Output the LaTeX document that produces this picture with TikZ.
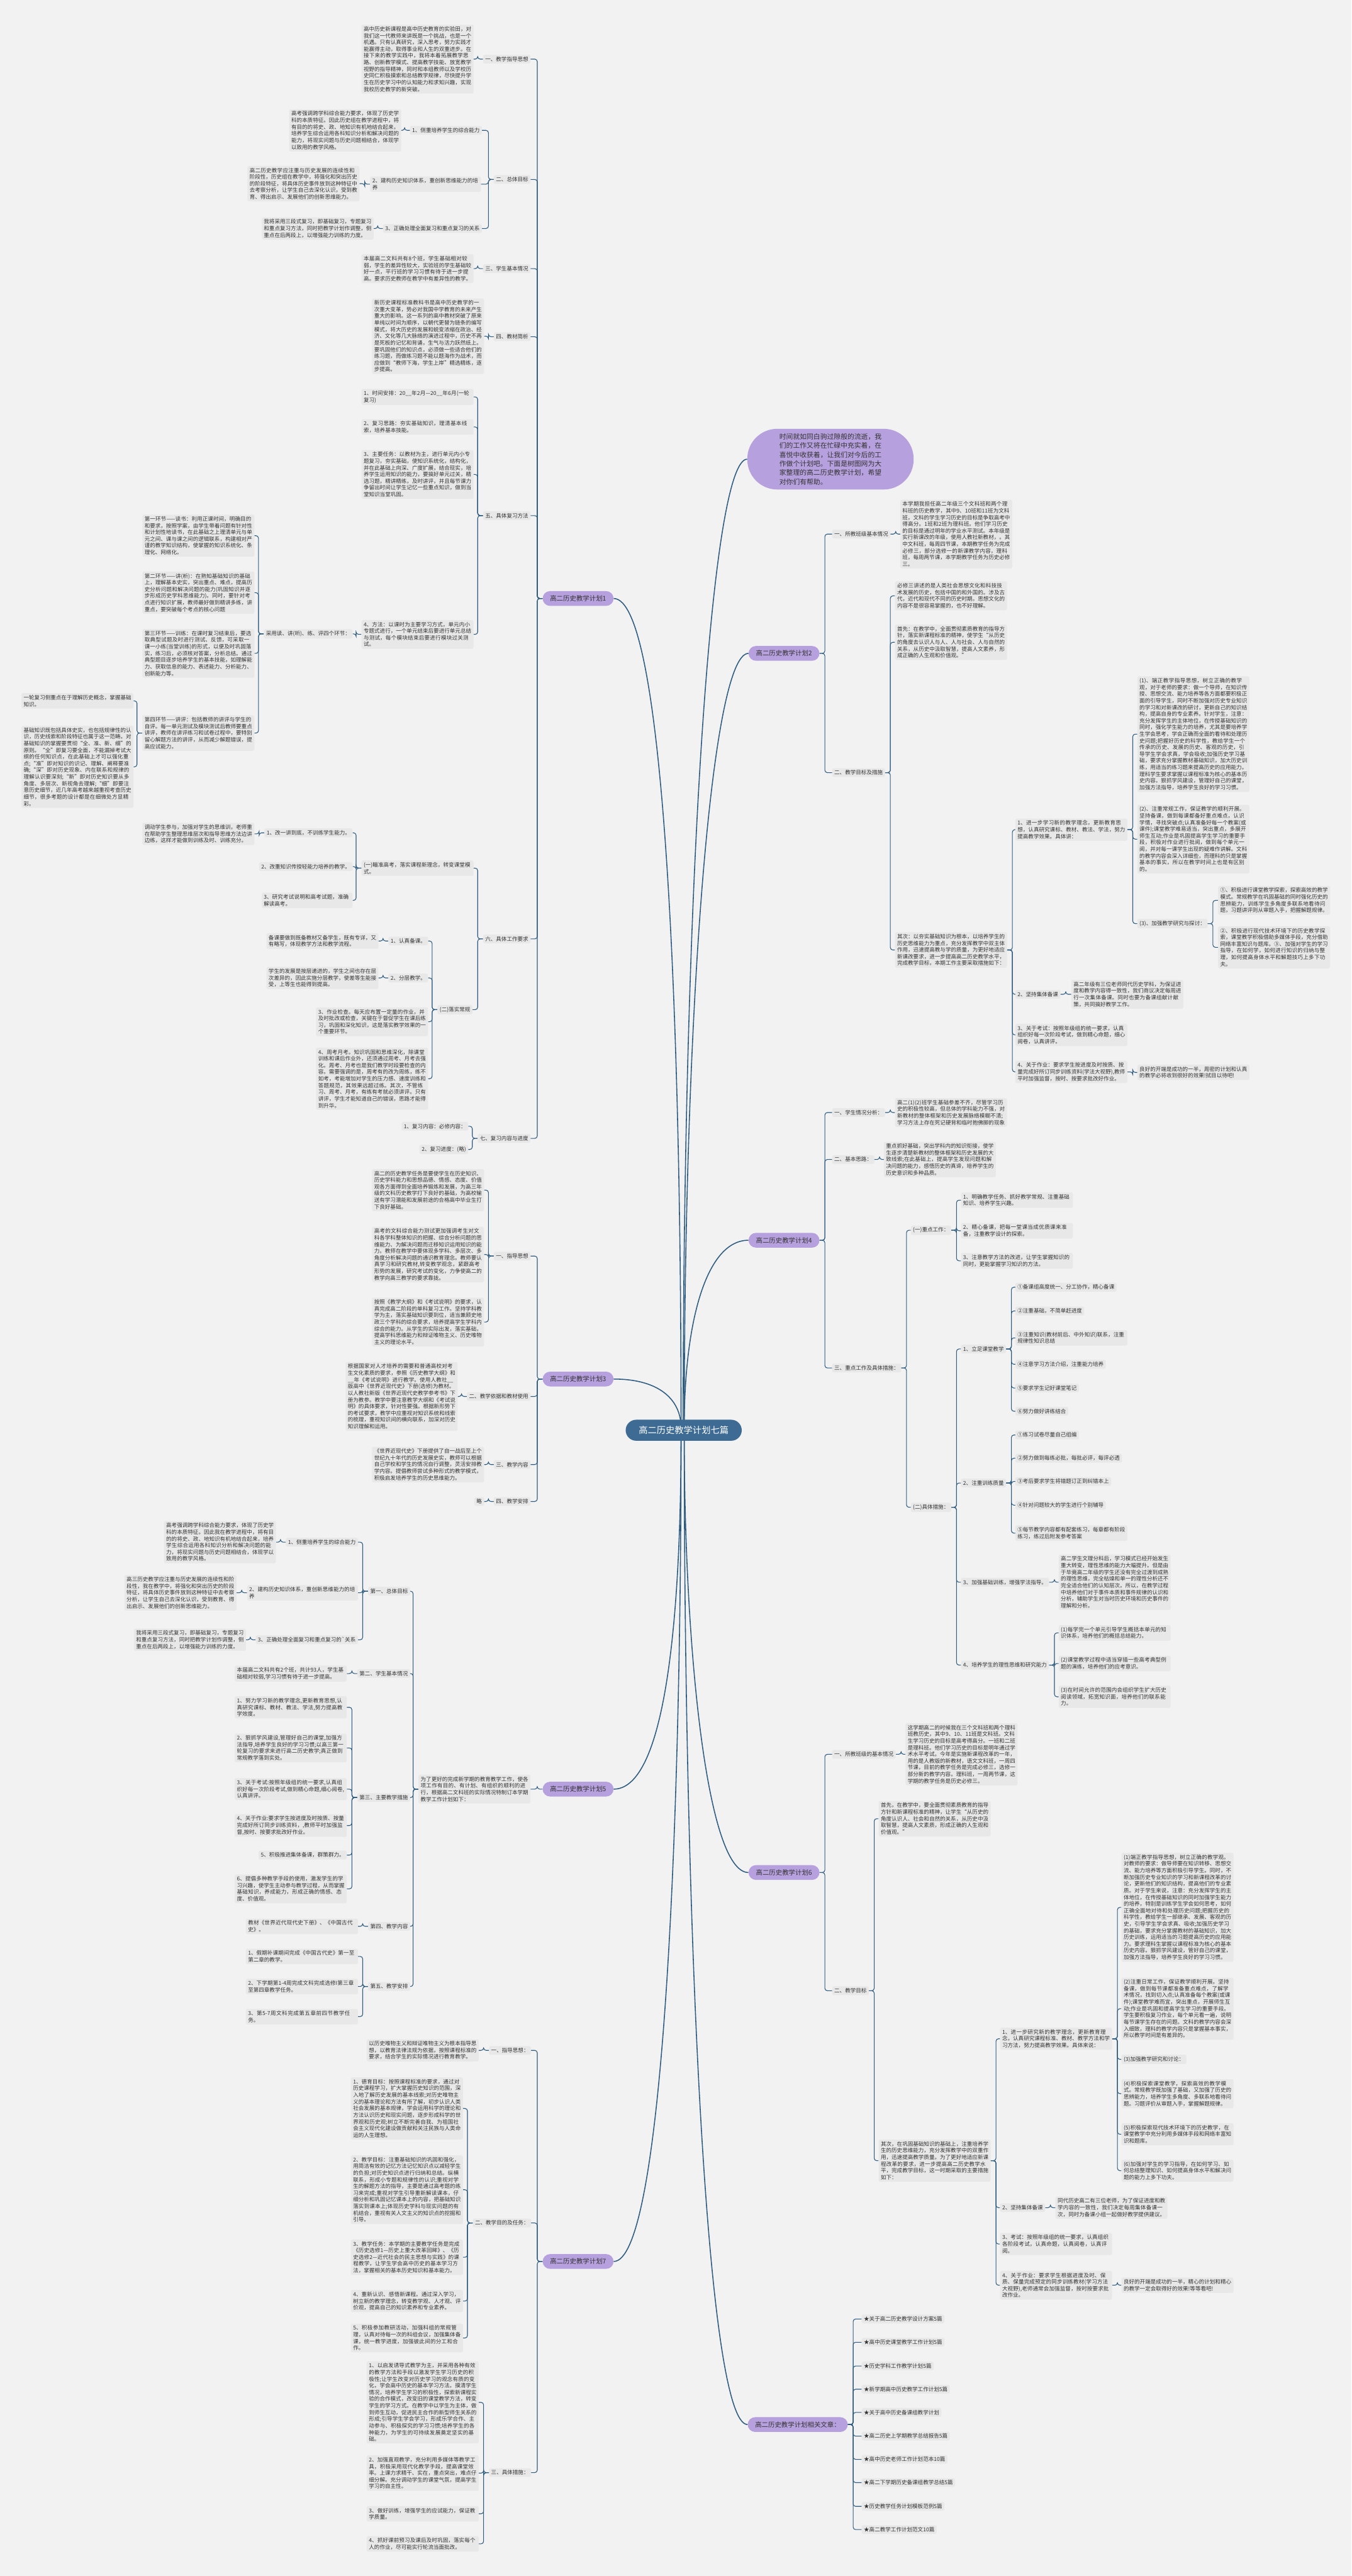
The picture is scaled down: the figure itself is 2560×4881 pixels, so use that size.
\documentclass[tikz,border=0pt]{standalone}
\usepackage{fontspec}
\setmainfont{Noto Sans CJK SC}
\XeTeXlinebreaklocale "zh"
\XeTeXlinebreakskip = 0pt plus 1pt
\usetikzlibrary{backgrounds}
\definecolor{bgc}{HTML}{F2F2F2}
\definecolor{leafc}{HTML}{E8E8E8}
\definecolor{linec}{HTML}{2E5C80}
\definecolor{purc}{HTML}{B7A0DE}
\definecolor{midc}{HTML}{3D6B93}
\definecolor{txtc}{HTML}{333333}
\tikzset{
  lab/.style={fill=leafc, rounded corners=2pt, inner xsep=3.5pt, inner ysep=3pt, text=txtc, font=\fontsize{8.7}{10.8}\selectfont},
  leaf/.style={lab, text width=174pt, align=left},
  topic/.style={fill=purc, rounded corners=0.42cm, minimum height=0.84cm, inner xsep=0.42cm, text=txtc, font=\fontsize{10.6}{12}\selectfont},
  conn/.style={draw=linec, line width=1.1pt, rounded corners=4pt},
  mainln/.style={draw=linec, line width=1.6pt},
}
\newcommand{\lk}[2]{\draw[conn] (#1.west) -- ++(-10,0) |- (#2.east);}
\newcommand{\rk}[2]{\draw[conn] (#1.east) -- ++(10,0) |- (#2.west);}
\begin{document}
\begin{tikzpicture}[line cap=round,line join=round,x=0.03cm,y=-0.03cm]
\useasboundingbox (0,0) rectangle (2560,4881);
% centre and summary
\node[fill=midc, rounded corners=0.6cm, minimum height=34pt, inner xsep=0.75cm, text=white, font=\fontsize{14.5}{16}\selectfont] (C) at (1295,2710) {高二历史教学计划七篇};
\node[fill=purc, rounded corners=1.7cm, minimum width=9.45cm, minimum height=3.45cm, text=txtc, align=left, font=\fontsize{11}{14.6}\selectfont] (sm) at (1573,870) {时间就如同白驹过隙般的流逝，我\\们的工作又将在忙碌中充实着，在\\喜悦中收获着，让我们对今后的工\\作做个计划吧。下面是树图网为大\\家整理的高二历史教学计划，希望\\对你们有帮助。};
% plan 1
\node[topic] (p1) at (1095,1134) {高二历史教学计划1};
\node[lab,anchor=east] (a1) at (1005,112) {一、教学指导思想};
\node[leaf,anchor=east] (a1x) at (897,112) {高中历史新课程是高中历史教育的实验田，对我们这一代教师来讲既是一个挑战，也是一个机遇。只有认真研究，深入思考，努力实践才能赢得主动，取得事业和人生的双重进步。在接下来的教学实践中，我将本着拓展教学思路、创新教学模式、提高教学技能、放宽教学视野的指导精神，同时和本组教师以及学校历史同仁积极摸索和总结教学规律，尽快提升学生在历史学习中的认知能力和求知兴趣，实现我校历史教学的新突破。};
\node[lab,anchor=east] (a2) at (1005,340) {二、总体目标};
\node[lab,anchor=east] (a21) at (913,247) {1、侧重培养学生的综合能力};
\node[leaf,anchor=east] (a21x) at (760,247) {高考强调跨学科综合能力要求，体现了历史学科的本质特征。因此历史组在教学进程中，将有目的的将史、政、地知识有机地结合起来，培养学生综合运用各科知识分析和解决问题的能力，将现实问题与历史问题相结合，体现学以致用的教学风格。};
\node[leaf,anchor=east,text width=172pt] (a22) at (911,349) {2、建构历史知识体系，重创新思维能力的培养};
\node[leaf,anchor=east] (a22x) at (681,348) {高二历史教学应注重与历史发展的连续性和阶段性，历史组在教学中，将强化和突出历史的阶段特征，将具体历史事件放到这种特征中去考察分析，让学生自己去深化认识，受到教育、得出启示、发展他们的创新思维能力。};
\node[lab,anchor=east] (a23) at (913,433) {3、正确处理全面复习和重点复习的关系};
\node[leaf,anchor=east] (a23x) at (708,433) {我将采用三段式复习，即基础复习，专题复习和重点复习方法，同时把教学计划作调整，侧重点在后两段上，以增强能力训练的力度。};
\node[lab,anchor=east] (a3) at (1005,509) {三、学生基本情况};
\node[leaf,anchor=east] (a3x) at (897,509) {本届高二文科共有8个班，学生基础相对较弱，学生的差异性较大，实验班的学生基础较好一点，平行班的学习习惯有待于进一步提高。要求历史教师在教学中有差异性的教学。};
\node[lab,anchor=east] (a4) at (1005,638) {四、教材简析};
\node[leaf,anchor=east] (a4x) at (917,637) {新历史课程标准教科书是高中历史教学的一次重大变革，势必对我国中学教育的未来产生重大的影响。这一系列的高中教材突破了原来单纯以时间为顺序，以朝代更替为链条的编写模式，将大历史的发展和蜕变浓缩在政治、经济、文化等几大脉络的演进过程中，历史不再是死板的记忆和背诵，生气与活力跃然纸上。要巩固他们的知识点，必须做一些适合他们的练习题，而做练习题不能以题海作为战术，而应做到“教师下海，学生上岸”精选精练，逐步提高。};
\node[lab,anchor=east] (a5) at (1005,977) {五、具体复习方法};
\node[leaf,anchor=east] (a51) at (897,752) {1、时间安排：20\_\_年2月—20\_\_年6月(一轮复习)};
\node[leaf,anchor=east] (a52) at (897,809) {2、复习思路：夯实基础知识，理清基本线索，培养基本技能。};
\node[leaf,anchor=east] (a53) at (897,899) {3、主要任务：以教材为主，进行单元内小专题复习，夯实基础，使知识系统化，结构化，并在此基础上向深、广度扩展，结合现实，培养学生运用知识的能力，要搞好单元过关，精选习题，精讲精练，及时讲评，并且每节课力争留出时间让学生记忆一些重点知识，做到当堂知识当堂巩固。};
\node[leaf,anchor=east] (a54) at (897,1202) {4、方法：以课时为主要学习方式，单元内小专题式进行，一个单元结束后要进行单元总结与测试，每个模块结束后要进行模块过关测试。};
\node[lab,anchor=east] (a54a) at (668,1201) {采用读、讲(听)、练、评四个环节：};
\node[leaf,anchor=east] (r1) at (482,1015) {第一环节——读书：利用正课时间，明确目的和要求，按照学案，由学生带着问题有针对性和计划性地读书，在此基础之上理清单元与单元之间、课与课之间的逻辑联系，构建相对严谨的教学知识结构，使掌握的知识系统化、条理化、网络化。};
\node[leaf,anchor=east] (r2) at (482,1123) {第二环节——讲(析)：在熟知基础知识的基础上，理解基本史实，突出重点、难点，提高历史分析问题和解决问题的能力(巩固知识并逐步形成历史学科思维能力)。同时，要针对考点进行知识扩展，教师最好做到精讲多练，讲重点，要突破每个考点的核心问题};
\node[leaf,anchor=east] (r3) at (482,1238) {第三环节——训练：在课时复习结束后，要选取典型试题及时进行测试、反馈，可采取一课一小练(当堂训练)的形式，以便及时巩固落实，练习后，必须核对答案，分析总结。通过典型题目逐步培养学生的基本技能，如理解能力、获取信息的能力、表述能力、分析能力、创新能力等。};
\node[leaf,anchor=east] (r4) at (482,1389) {第四环节——讲评：包括教师的讲评与学生的自评。每一单元测试及模块测试后教师要重点讲评，教师在讲评练习和试卷过程中，要特别留心解题方法的讲评，从而减少解题错误，提高应试能力。};
\node[leaf,anchor=east] (r41) at (253,1328) {一轮复习侧重点在于理解历史概念，掌握基础知识。};
\node[leaf,anchor=east] (r42) at (253,1453) {基础知识既包括具体史实，也包括规律性的认识，历史线索和阶段特征也属于这一范畴。对基础知识的掌握要贯彻“全、准、新、细”的原则。“全”即复习要全面，不能漏掉考试大纲的任何知识点，在此基础上才可以强化重点;“准”即对知识的识记、理解、阐释要准确;“深”即对历史现象、内在联系和规律的理解认识要深刻;“新”即对历史知识要从多角度、多层次、新视角去理解;“细”即要注意历史细节，近几年高考越来越重视考查历史细节，很多考题的设计都是在细微处方显精彩。};
\node[lab,anchor=east] (a6) at (1005,1779) {六、具体工作要求};
\node[leaf,anchor=east] (a61) at (897,1645) {(一)瞄准高考，落实课程新理念，转变课堂模式。};
\node[lab,anchor=east] (a611) at (668,1578) {1、改一讲到底，不训练学生能力。};
\node[leaf,anchor=east] (a611x) at (482,1580) {调动学生参与，加强对学生的思维训，老师重在帮助学生整理思维层次和指导思维方法边讲边练，这样才能做到训练及时、训练充分。};
\node[lab,anchor=east] (a612) at (668,1642) {2、改重知识传授轻能力培养的教学。};
\node[leaf,anchor=east,text width=140pt] (a613) at (668,1706) {3、研究考试说明和高考试题，准确解读高考。};
\node[lab,anchor=east] (a62) at (895,1913) {(二)落实常规};
\node[lab,anchor=east] (a621) at (811,1783) {1、认真备课。};
\node[leaf,anchor=east] (a621x) at (717,1783) {备课要做到既备教材又备学生，既有专详，又有略写，体现教学方法和教学流程。};
\node[lab,anchor=east] (a622) at (811,1853) {2、分层教学。};
\node[leaf,anchor=east] (a622x) at (717,1853) {学生的发展是按层递进的，学生之间也存在层次差异的，因此实施分层教学，使差等生能接受，上等生也能得到提高。};
\node[leaf,anchor=east] (a623) at (811,1936) {3、作业检查。每天应布置一定量的作业，并及时批改或检查，关键在于督促学生在课后练习，巩固和深化知识，这是落实教学效果的一个重要环节。};
\node[leaf,anchor=east] (a624) at (811,2044) {4、周考月考。知识巩固和思维深化，除课堂训练和课后作业外，还须通过周考、月考去强化。周考、月考也是我们教学时段要检查的内容。需要强调的是，周考有的改为周练，练不如考，考能增加对学生的压力感、速度训练和答题规范，其效果远超过练。其次，不管练习、周考、月考，有练有考就必须讲评。只有讲评，学生才能知道自己的错误，思路才能得到升华。};
\node[lab,anchor=east] (a7) at (1005,2157) {七、复习内容与进度};
\node[lab,anchor=east] (a71) at (887,2134) {1、复习内容：必修内容：};
\node[lab,anchor=east] (a72) at (887,2178) {2、复习进度：(略)};
% plan 2
\node[topic] (p2) at (1485,1238) {高二历史教学计划2};
\node[lab,anchor=west] (b1) at (1576,1012) {一、所教班级基本情况};
\node[leaf,anchor=west] (b1x) at (1705,1012) {本学期我担任高二年级三个文科班和两个理科班的历史教学，其中9、10班和11班为文科班，文科的学生学习历史的目标是争取高考中得高分。1班和2班为理科班。他们学习历史的目标是通过明年的学业水平测试。本年级是实行新课改的年级，使用人教社新教材，。其中文科班，每周四节课，本期教学任务为完成必修三，部分选修一的新课教学内容，理科班，每周两节课，本学期教学任务为历史必修三。};
\node[lab,anchor=west] (b2) at (1576,1464) {二、教学目标及措施};
\node[leaf,anchor=west] (b21) at (1695,1129) {必修三讲述的是人类社会思想文化和科技技术发展的历史，包括中国的和外国的。涉及古代，近代和现代不同的历史时期。思想文化的内容不是很容易掌握的，也不好理解。};
\node[leaf,anchor=west] (b22) at (1695,1217) {首先：在教学中，全面贯彻素质教育的指导方针，落实新课程标准的精神，使学生“从历史的角度去认识人与人、人与社会、人与自然的关系，从历史中汲取智慧，提高人文素养，形成正确的人生观和价值观。”};
\node[leaf,anchor=west] (b23) at (1695,1800) {其次：以夯实基础知识为根本，以培养学生的历史思维能力为重点，充分发挥教学中双主体作用，迅速提高教与学的质量，为更好地适应新课改要求，进一步提高高二历史教学水平，完成教学目标，本期工作主要采取措施如下：};
\node[leaf,anchor=west] (b231) at (1923,1572) {1、进一步学习新的教学理念，更新教育思想，认真研究课标、教材、教法、学法，努力提高教学效果。具体讲：};
\node[leaf,anchor=west] (b2311) at (2154,1391) {(1)、端正教学指导思想，树立正确的教学观，对于老师的要求：做一个导师，在知识传授、思想交流、能力培养等各方面都要积极正面的引导学生，同时不断加强对历史专业知识的学习和对新课改的研讨，更新自己的知识结构，提高自身的专业素养。针对学生，注意：充分发挥学生的主体地位，在传授基础知识的同时，强化学生能力的培养，尤其是要培养学生学会思考，学会正确而全面的看待和处理历史问题;把握好历史的科学性，教给学生一个传承的历史、发展的历史、客观的历史，引导学生学会求真，学会吸收;加强历史学习基础，要求充分掌握教材基础知识，加大历史训练，用适当的练习题来提高历史的应用能力。理科学生要求掌握以课程标准为核心的基本历史内容。狠抓学风建设，管理好自己的课堂，加强方法指导，培养学生良好的学习习惯。};
\node[leaf,anchor=west] (b2312) at (2154,1590) {(2)、注重常规工作，保证教学的顺利开展。坚持备课，做到每课都备好重点难点，认识学情，寻找突破点;认真准备好每一个教案(或课件);课堂教学难易适当，突出重点，多展开师生互动;作业是巩固提高学生学习的重要手段，积极对作业进行批阅，做到每个单元一阅，并对每一课学生出现的疑难作讲解。文科的教学内容会深入详细些，而理科的只是掌握基本的事实，所以在教学时间上也是有区别的。};
\node[lab,anchor=west] (b2313) at (2154,1750) {(3)、加强教学研究与探讨：};
\node[leaf,anchor=west] (b23131) at (2307,1706) {①、积极进行课堂教学探索，探索高效的教学模式。常规教学在巩固基础的同时强化历史的思辨能力，训练学生多角度多联系地看待问题，习题讲评则从审题入手，把握解题规律。};
\node[leaf,anchor=west] (b23132) at (2307,1795) {②、积极进行现代技术环境下的历史教学探索，课堂教学积极借助多媒体手段，充分借助网络丰富知识与题库。③、加强对学生的学习指导，在如何学，如何进行知识的归纳与整理，如何提高身体水平和解题技巧上多下功夫。};
\node[lab,anchor=west] (b232) at (1923,1884) {2、坚持集体备课};
\node[leaf,anchor=west] (b232x) at (2029,1884) {高二年级有三位老师同代历史学科，为保证进度和教学内容得一致性，我们商议决定每周进行一次集体备课。同时也要为备课组献计献策，共同搞好教学工作。};
\node[leaf,anchor=west] (b233) at (1923,1961) {3、关于考试：按照年级组的统一要求，认真组织好每一次阶段考试，做到精心命题，细心阅卷，认真讲评。};
\node[leaf,anchor=west] (b234) at (1923,2031) {4、关于作业：要求学生按进度及时按质、按量完成好所订同步训练资料(学法大视野),教师平时加强监督，按时、按要求批改好作业。};
\node[leaf,anchor=west] (b234x) at (2154,2032) {良好的开端是成功的一半，周密的计划和认真的教学必将收到很好的效果!拭目以待吧!};
% plan 3
\node[topic] (p3) at (1095,2613) {高二历史教学计划3};
\node[lab,anchor=east] (c1) at (1005,2380) {一、指导思想};
\node[leaf,anchor=east] (c11) at (917,2255) {高二的历史教学任务是要使学生在历史知识、历史学科能力和思想品德、情感、态度、价值观各方面得到全面培养锻炼和发展，为高三年级的文科历史教学打下良好的基础，为高校输送有学习潜能和发展前途的合格高中毕业生打下良好基础。};
\node[leaf,anchor=east] (c12) at (917,2377) {高考的文科综合能力测试更加强调考生对文科各学科整体知识的把握、综合分析问题的思维能力、为解决问题而迁移知识运用知识的能力。教师在教学中要体现多学科、多层次、多角度分析解决问题的通识教育理念。教师要认真学习和研究教材,转变教学观念，紧跟高考形势的发展，研究考试的变化，力争使高二的教学向高三教学的要求靠拢。};
\node[leaf,anchor=east] (c13) at (917,2505) {按照《教学大纲》和《考试说明》的要求，认真完成高二阶段的单科复习工作。坚持学科教学为主，落实基础知识要到位，适当兼顾史地政三个学科的综合要求，培养提高学生学科内综合的能力。从学生的实际出发，落实基础，提高学科思维能力和辩证唯物主义、历史唯物主义的理论水平。};
\node[lab,anchor=east] (c2) at (1005,2646) {二、教学依据和教材使用};
\node[leaf,anchor=east] (c2x) at (867,2646) {根据国家对人才培养的需要和普通高校对考生文化素质的要求，参照《历史教学大纲》和\_\_年《考试说明》进行教学。使用人教社\_\_版高中《世界近现代史》下册(选修)为教材。以人教社新版《世界近现代史教学参考书》下册为教参。教学中要注意教学大纲和《考试说明》的具体要求，针对性要强。根据新形势下的考试要求，教学中应重视对知识系统和线索的梳理，重视知识间的横向联系，加深对历史知识理解和运用。};
\node[lab,anchor=east] (c3) at (1005,2775) {三、教学内容};
\node[leaf,anchor=east] (c3x) at (917,2775) {《世界近现代史》下册提供了自一战后至上个世纪九十年代的历史发展史实，教师可以根据自己学校和学生的情况自行调整，灵活安排教学内容。提倡教师尝试多种形式的教学模式，积极启发培养学生的历史思维能力。};
\node[lab,anchor=east] (c4) at (1005,2845) {四、教学安排};
\node[lab,anchor=east] (c4x) at (917,2845) {略};
% plan 4
\node[topic] (p4) at (1485,2350) {高二历史教学计划4};
\node[lab,anchor=west] (d1) at (1576,2108) {一、学生情况分析：};
\node[leaf,anchor=west] (d1x) at (1695,2108) {高二(1)(2)班学生基础参差不齐，尽管学习历史的积极性较高，但总体的学科能力不强，对新教材的整体框架和历史发展脉络模糊不清;学习方法上存在死记硬背和临时抱佛脚的现象};
\node[lab,anchor=west] (d2) at (1576,2197) {二、基本思路：};
\node[leaf,anchor=west] (d2x) at (1674,2197) {重点抓好基础，突出学科内的知识衔接，使学生逐步清楚新教材的整体框架和历史发展的大致线索;在此基础上，提高学生发现问题和解决问题的能力，感悟历史的真谛，培养学生的历史意识和多种品质。};
\node[lab,anchor=west] (d3) at (1576,2592) {三、重点工作及具体措施：};
\node[lab,anchor=west] (d31) at (1725,2331) {(一)重点工作：};
\node[leaf,anchor=west] (d311) at (1820,2274) {1、明确教学任务、抓好教学常规、注重基础知识、培养学生兴趣。};
\node[leaf,anchor=west] (d312) at (1820,2332) {2、精心备课，把每一堂课当成优质课来准备，注重教学设计的探索。};
\node[leaf,anchor=west] (d313) at (1820,2389) {3、注意教学方法的改进，让学生掌握知识的同时，更能掌握学习知识的方法。};
\node[lab,anchor=west] (d32) at (1725,2856) {(二)具体措施：};
\node[lab,anchor=west] (d321) at (1820,2556) {1、立足课堂教学};
\node[lab,anchor=west] (d3211) at (1923,2439) {①备课组高度统一、分工协作，精心备课};
\node[lab,anchor=west] (d3212) at (1923,2484) {②注重基础，不简单赶进度};
\node[leaf,anchor=west] (d3213) at (1923,2535) {③注重知识(教材前后、中外知识)联系，注重规律性知识总结};
\node[lab,anchor=west] (d3214) at (1923,2585) {④注意学习方法介绍，注重能力培养};
\node[lab,anchor=west] (d3215) at (1923,2630) {⑤要求学生记好课堂笔记};
\node[lab,anchor=west] (d3216) at (1923,2674) {⑥努力做好讲练结合};
\node[lab,anchor=west] (d322) at (1820,2810) {2、注重训练质量};
\node[lab,anchor=west] (d3221) at (1923,2719) {①练习试卷尽量自己组编};
\node[lab,anchor=west] (d3222) at (1923,2763) {②努力做到每练必批，每批必评，每评必透};
\node[lab,anchor=west] (d3223) at (1923,2807) {③考后要求学生将错题订正到纠错本上};
\node[lab,anchor=west] (d3224) at (1923,2852) {④针对问题较大的学生进行个别辅导};
\node[leaf,anchor=west] (d3225) at (1923,2905) {⑤每节教学内容都有配套练习，每章都有阶段练习，练过后附发参考答案};
\node[lab,anchor=west] (d323) at (1820,2998) {3、加强基础训练，增强学法指导。};
\node[leaf,anchor=west] (d323x) at (2005,2998) {高二学生文理分科后，学习模式已经开始发生重大转变，理性思维的能力大幅提升。但是由于毕竟高二年级的学生还没有完全过渡到成熟的理性思维，完全枯燥和单一的理性分析还不完全适合他们的认知层次。所以，在教学过程中培养他们对于事件本质和事件规律的认识和分析，辅助学生对当时历史环境和历史事件的理解和分析。};
\node[lab,anchor=west] (d324) at (1820,3155) {4、培养学生的理性思维和研究能力};
\node[leaf,anchor=west] (d3241) at (2005,3094) {(1)每学完一个单元引导学生概括本单元的知识体系，培养他们的概括总结能力。};
\node[leaf,anchor=west] (d3242) at (2005,3152) {(2)课堂教学过程中适当穿插一些高考典型例题的演练，培养他们的应考意识。};
\node[leaf,anchor=west] (d3243) at (2005,3215) {(3)在时间允许的范围内会组织学生扩大历史阅读领域，拓宽知识面，培养他们的联系能力。};
% plan 5
\node[topic] (p5) at (1095,3390) {高二历史教学计划5};
\node[leaf,anchor=east] (e0) at (1005,3390) {为了更好的完成新学期的教育教学工作，使各项工作有目的、有计划、有组织的顺利的进行，根据高二文科班的实际情况特制订本学期教学工作计划如下：};
\node[lab,anchor=east] (e1) at (777,3015) {第一、总体目标};
\node[lab,anchor=east] (e11) at (678,2922) {1、侧重培养学生的综合能力};
\node[leaf,anchor=east] (e11x) at (523,2922) {高考强调跨学科综合能力要求，体现了历史学科的本质特征。因此我在教学进程中，将有目的的将史、政、地知识有机地结合起来，培养学生综合运用各科知识分析和解决问题的能力，将现实问题与历史问题相结合，体现学以致用的教学风格。};
\node[leaf,anchor=east,text width=172pt] (e12) at (678,3018) {2、建构历史知识体系，重创新思维能力的培养};
\node[leaf,anchor=east] (e12x) at (448,3018) {高三历史教学应注重与历史发展的连续性和阶段性，我在教学中，将强化和突出历史的阶段特征，将具体历史事件放到这种特征中去考察分析，让学生自己去深化认识，受到教育、得出启示、发展他们的创新思维能力。};
\node[lab,anchor=east] (e13) at (678,3107) {3、正确处理全面复习和重点复习的\textasciigrave 关系};
\node[leaf,anchor=east] (e13x) at (466,3107) {我将采用三段式复习，即基础复习，专题复习和重点复习方法，同时把教学计划作调整，侧重点在后两段上，以增强能力训练的力度。};
\node[lab,anchor=east] (e2) at (777,3171) {第二、学生基本情况};
\node[leaf,anchor=east] (e2x) at (657,3171) {本届高二文科共有2个班，共计93人，学生基础相对较弱,学习习惯有待于进一步提高。};
\node[lab,anchor=east] (e3) at (777,3406) {第三、主要教学措施};
\node[leaf,anchor=east] (e31) at (657,3235) {1、努力学习新的教学理念,更新教育思想,认真研究课标、教材、教法、学法,努力提高教学效度。};
\node[leaf,anchor=east] (e32) at (657,3312) {2、狠抓学风建设,管理好自己的课堂,加强方法指导,培养学生良好的学习习惯;以高三第一轮复习的要求来进行高二历史教学;真正做到常规教学落到实处。};
\node[leaf,anchor=east] (e33) at (657,3390) {3、关于考试:按照年级组的统一要求,认真组织好每一次阶段考试,做到精心命题,细心阅卷,认真讲评。};
\node[leaf,anchor=east] (e34) at (657,3459) {4、关于作业:要求学生按进度及时按质、按量完成好所订同步训练资料，,教师平时加强监督,按时、按要求批改好作业。};
\node[lab,anchor=east] (e35) at (657,3515) {5、积极推进集体备课，群策群力。};
\node[leaf,anchor=east] (e36) at (657,3579) {6、提倡多种教学手段的使用，激发学生的学习兴趣，使学生主动参与教学过程，从而掌握基础知识，养成能力，形成正确的情感、态度、价值观。};
\node[lab,anchor=east] (e4) at (777,3650) {第四、教学内容};
\node[leaf,anchor=east] (e4x) at (678,3650) {教材《世界近代现代史下册》、《中国古代史》。};
\node[lab,anchor=east] (e5) at (777,3764) {第五、教学安排};
\node[leaf,anchor=east] (e51) at (678,3707) {1、假期补课期间完成《中国古代史》第一至第二章的教学。};
\node[leaf,anchor=east] (e52) at (678,3764) {2、下学期第1-4周完成文科完成选修I第三章至第四章教学任务。};
\node[leaf,anchor=east] (e53) at (678,3821) {3、第5-7周文科完成第五章前四节教学任务。};
% plan 6
\node[topic] (p6) at (1485,3548) {高二历史教学计划6};
\node[lab,anchor=west] (f1) at (1576,3324) {一、所教班级的基本情况};
\node[leaf,anchor=west] (f1x) at (1715,3324) {这学期高二的时候我在三个文科班和两个理科班教历史，其中9、10、11班是文科班。文科生学习历史的目标是高考得高分。一班和二班是理科班。他们学习历史的目标是明年通过学术水平考试。今年是实施新课程改革的一年，用的是人教版的新教材，语文文科班，一周四节课，目前的教学任务是完成必修三，选修一部分新的教学内容。理科班，一周两节课，这学期的教学任务是历史必修三。};
\node[lab,anchor=west] (f2) at (1576,3772) {二、教学目标};
\node[leaf,anchor=west] (f21) at (1664,3446) {首先，在教学中，要全面贯彻素质教育的指导方针和新课程标准的精神，让学生“从历史的角度认识人、社会和自然的关系，从历史中汲取智慧，提高人文素质，形成正确的人生观和价值观。”};
\node[leaf,anchor=west] (f22) at (1664,4094) {其次，在巩固基础知识的基础上，注重培养学生的历史思维能力，充分发挥教学中的双重作用，迅速提高教学质量。为了更好地适应新课程改革的要求，进一步提高高二历史教学水平，完成教学目标，这一时期采取的主要措施如下：};
\node[leaf,anchor=west] (f221) at (1894,3863) {1、进一步研究新的教学理念，更新教育理念，认真研究课程标准、教材、教学方法和学习方法，努力提高教学效果。具体来说：};
\node[leaf,anchor=west] (f2211) at (2124,3614) {(1)端正教学指导思想，树立正确的教学观。对教师的要求：做导师要在知识转移、思想交流、能力培养等方面积极引导学生。同时，不断加强历史专业知识的学习和新课程改革的讨论，更新他们的知识结构，提高他们的专业素质。对于学生来说，注意：充分发挥学生的主体地位，在传授基础知识的同时加强学生能力的培养，特别是训练学生学会如何思考，如何正确全面地对待和处理历史问题;把握历史的科学性，教给学生一部继承、发展、客观的历史，引导学生学会求真、吸收;加强历史学习的基础，要求充分掌握教材的基础知识，加大历史训练，运用适当的习题提高历史的应用能力。要求理科生掌握以课程标准为核心的基本历史内容。狠抓学风建设，管好自己的课堂，加强方法指导，培养学生良好的学习习惯。};
\node[leaf,anchor=west] (f2212) at (2124,3806) {(2)注重日常工作，保证教学顺利开展。坚持备课，做到每节课都准备重点难点，了解学术情况，找到切入点;认真准备每个教案(或课件);课堂教学难而宜，突出重点，开展师生互动;作业是巩固和提高学生学习的重要手段。学生要积极复习作业，每个单元看一遍，说明每节课学生存在的问题。文科的教学内容会深入细致，理科的教学内容只是掌握基本事实，所以教学时间是有差异的。};
\node[lab,anchor=west] (f2213) at (2124,3902) {(3)加强教学研究和讨论：};
\node[leaf,anchor=west] (f2214) at (2124,3967) {(4)积极探索课堂教学，探索高效的教学模式。常规教学既加强了基础，又加强了历史的思辨能力，培养学生多角度、多联系地看待问题。习题评价从审题入手，掌握解题规律。};
\node[leaf,anchor=west] (f2215) at (2124,4044) {(5)积极探索现代技术环境下的历史教学，在课堂教学中充分利用多媒体手段和网络丰富知识和题库。};
\node[leaf,anchor=west] (f2216) at (2124,4113) {(6)加强对学生的学习指导，在如何学习、如何总结整理知识、如何提高身体水平和解决问题的能力上多下功夫。};
\node[lab,anchor=west] (f222) at (1894,4183) {2、坚持集体备课};
\node[leaf,anchor=west] (f222x) at (1999,4183) {同代历史高二有三位老师，为了保证进度和教学内容的一致性，我们决定每周集体备课一次，同时为备课小组一起做好教学提供建议。};
\node[leaf,anchor=west] (f223) at (1894,4252) {3、考试：按照年级组的统一要求，认真组织各阶段考试，认真命题，认真阅卷，认真评阅。};
\node[leaf,anchor=west] (f224) at (1894,4330) {4、关于作业：要求学生根据进度及时、保质、保量完成预定的同步训练教材(学习方法大视野),老师通常会加强监督，按时按要求批改作业。};
\node[leaf,anchor=west] (f224x) at (2124,4330) {良好的开端是成功的一半，精心的计划和精心的教学一定会取得好的效果!等等看吧!};
% plan 7
\node[topic] (p7) at (1095,4285) {高二历史教学计划7};
\node[lab,anchor=east] (g1) at (1006,3885) {一、指导思想：};
\node[leaf,anchor=east] (g1x) at (907,3885) {以历史唯物主义和辩证唯物主义为根本指导思想，以教育法律法规为依据，按照课程标准的要求，结合学生的实际情况进行教育教学。};
\node[lab,anchor=east] (g2) at (1006,4212) {二、教学目的及任务：};
\node[leaf,anchor=east] (g21) at (877,3995) {1、德育目标：按照课程标准的要求，通过对历史课程学习，扩大掌握历史知识的范围，深入地了解历史发展的基本线索;对历史唯物主义的基本理论和方法有所了解，初步认识人类社会发展的基本规律，学会运用科学的理论和方法认识历史和现实问题，逐步形成科学的世界观和历史观;树立不断完善自我、为祖国社会主义现代化建设做贡献和关注民族与人类命运的人生理想。};
\node[leaf,anchor=east] (g22) at (877,4149) {2、教学目标：注重基础知识的巩固和强化，用简洁有效的记忆方法记忆知识点以减轻学生的负担;对历史知识点进行归纳和总结。纵横联系，形成小专题和规律性的认识;重视对学生的解题方法的指导，主要是通过高考题的练习来完成;重视对学生引导重新解读课本，仔细分析和巩固记忆课本上的内容，把基础知识落实到课本上;体现历史学科与现实问题的有机结合，重视有关人文主义的知识点的挖掘和引导。};
\node[leaf,anchor=east] (g23) at (877,4277) {3、教学任务：本学期的主要教学任务是完成《历史选修1—历史上重大改革回眸》、《历史选修2—近代社会的民主思想与实践》的课程教学，让学生学会高中历史的基本学习方法，掌握相关的基本历史知识和基本能力。};
\node[leaf,anchor=east] (g24) at (877,4360) {4、重新认识、感悟新课程。通过深入学习，树立新的教学理念，转变教学观、人才观、评价观，提高自己的知识素养和专业素养。};
\node[leaf,anchor=east] (g25) at (877,4430) {5、积极参加教研活动，加强科组的常规管理，认真对待每一次的科组会议，加强集体备课，统一教学进度，加强彼此间的分工和合作。};
\node[lab,anchor=east] (g3) at (1006,4685) {三、具体措施：};
\node[leaf,anchor=east] (g31) at (907,4552) {1、以启发诱导式教学为主，并采用各种有效的教学方法和手段以激发学生学习历史的积极性;让学生改变对历史学习的观念有质的变化，学会高中历史的基本学习方法。摸清学生情况，培养学生学习的积极性，探索新课程实验的合作模式，改变旧的课堂教学方法，转变学生的学习方式。在教学中以学生为主体，做到师生互动，促进民主合作的新型师生关系的形成;引导学生学会学习，形成乐学合作、主动参与、积极探究的学习习惯;培养学生的各种能力，为学生的可持续发展奠定坚实的基础。};
\node[leaf,anchor=east] (g32) at (907,4686) {2、加强直观教学，充分利用多媒体等教学工具，积极采用现代化教学手段，提高课堂效率。上课力求精干、实在，重点突出，难点仔细分解。充分调动学生的课堂气氛，提高学生学习的自主性。};
\node[leaf,anchor=east] (g33) at (907,4763) {3、做好训练，增强学生的应试能力，保证教学质量。};
\node[leaf,anchor=east] (g34) at (907,4820) {4、抓好课前预习及课后及时巩固，落实每个人的作业，尽可能实行轮流当面批改。};
% related articles
\node[topic] (p8) at (1511,4594) {高二历史教学计划相关文章：};
\node[lab,anchor=west] (h1) at (1632,4394) {★关于高二历史教学设计方案5篇};
\node[lab,anchor=west] (h2) at (1632,4438) {★高中历史课堂教学工作计划5篇};
\node[lab,anchor=west] (h3) at (1632,4483) {★历史学科工作教学计划5篇};
\node[lab,anchor=west] (h4) at (1632,4527) {★新学期高中历史教学工作计划5篇};
\node[lab,anchor=west] (h5) at (1632,4571) {★关于高中历史备课组教学计划};
\node[lab,anchor=west] (h6) at (1632,4616) {★高二历史上学期教学总结报告5篇};
\node[lab,anchor=west] (h7) at (1632,4660) {★高中历史老师工作计划范本10篇};
\node[lab,anchor=west] (h8) at (1632,4704) {★高二下学期历史备课组教学总结5篇};
\node[lab,anchor=west] (h9) at (1632,4749) {★历史教学任务计划模板范例5篇};
\node[lab,anchor=west] (h10) at (1632,4793) {★高二教学工作计划范文10篇};
\begin{pgfonlayer}{background}
\fill[bgc] (0,0) rectangle (2560,4881);
\draw[mainln] (p1.east) .. controls +(95,0) and +(0,-800) .. (1290,2705);
\draw[mainln] (sm.west) .. controls +(-70,0) and +(0,-1000) .. (1294,2705);
\draw[mainln] (p2.west) .. controls +(-70,0) and +(0,-800) .. (1296,2705);
\draw[mainln] (p3.east) .. controls +(90,0) and +(0,-50) .. (1290,2705);
\draw[mainln] (p4.west) .. controls +(-80,0) and +(0,-200) .. (1296,2705);
\draw[mainln] (p5.east) .. controls +(90,0) and +(0,400) .. (1290,2715);
\draw[mainln] (p6.west) .. controls +(-80,0) and +(0,400) .. (1296,2715);
\draw[mainln] (p7.east) .. controls +(90,0) and +(0,800) .. (1290,2715);
\draw[mainln] (p8.west) .. controls +(-80,0) and +(0,900) .. (1296,2715);
\foreach \n in {a1,a2,a3,a4,a5,a6,a7} \lk{p1}{\n};
\lk{a1}{a1x}
\foreach \n in {a21,a22,a23} \lk{a2}{\n};
\lk{a21}{a21x} \lk{a22}{a22x} \lk{a23}{a23x}
\lk{a3}{a3x} \lk{a4}{a4x}
\foreach \n in {a51,a52,a53,a54} \lk{a5}{\n};
\lk{a54}{a54a}
\foreach \n in {r1,r2,r3,r4} \lk{a54a}{\n};
\foreach \n in {r41,r42} \lk{r4}{\n};
\foreach \n in {a61,a62} \lk{a6}{\n};
\foreach \n in {a611,a612,a613} \lk{a61}{\n};
\lk{a611}{a611x}
\foreach \n in {a621,a622,a623,a624} \lk{a62}{\n};
\lk{a621}{a621x} \lk{a622}{a622x}
\foreach \n in {a71,a72} \lk{a7}{\n};
\foreach \n in {b1,b2} \rk{p2}{\n};
\rk{b1}{b1x}
\foreach \n in {b21,b22,b23} \rk{b2}{\n};
\foreach \n in {b231,b232,b233,b234} \rk{b23}{\n};
\foreach \n in {b2311,b2312,b2313} \rk{b231}{\n};
\foreach \n in {b23131,b23132} \rk{b2313}{\n};
\rk{b232}{b232x} \rk{b234}{b234x}
\foreach \n in {c1,c2,c3,c4} \lk{p3}{\n};
\foreach \n in {c11,c12,c13} \lk{c1}{\n};
\lk{c2}{c2x} \lk{c3}{c3x} \lk{c4}{c4x}
\foreach \n in {d1,d2,d3} \rk{p4}{\n};
\rk{d1}{d1x} \rk{d2}{d2x}
\foreach \n in {d31,d32} \rk{d3}{\n};
\foreach \n in {d311,d312,d313} \rk{d31}{\n};
\foreach \n in {d321,d322,d323,d324} \rk{d32}{\n};
\foreach \i in {1,...,6} \rk{d321}{d321\i};
\foreach \i in {1,...,5} \rk{d322}{d322\i};
\rk{d323}{d323x}
\foreach \i in {1,2,3} \rk{d324}{d324\i};
\lk{p5}{e0}
\foreach \n in {e1,e2,e3,e4,e5} \lk{e0}{\n};
\foreach \n in {e11,e12,e13} \lk{e1}{\n};
\lk{e11}{e11x} \lk{e12}{e12x} \lk{e13}{e13x}
\lk{e2}{e2x}
\foreach \i in {1,...,6} \lk{e3}{e3\i};
\lk{e4}{e4x}
\foreach \i in {1,2,3} \lk{e5}{e5\i};
\foreach \n in {f1,f2} \rk{p6}{\n};
\rk{f1}{f1x}
\foreach \n in {f21,f22} \rk{f2}{\n};
\foreach \n in {f221,f222,f223,f224} \rk{f22}{\n};
\foreach \i in {1,...,6} \rk{f221}{f221\i};
\rk{f222}{f222x} \rk{f224}{f224x}
\foreach \n in {g1,g2,g3} \lk{p7}{\n};
\lk{g1}{g1x}
\foreach \i in {1,...,5} \lk{g2}{g2\i};
\foreach \i in {1,...,4} \lk{g3}{g3\i};
\foreach \i in {1,...,10} \rk{p8}{h\i};
\end{pgfonlayer}
\end{tikzpicture}
\end{document}
